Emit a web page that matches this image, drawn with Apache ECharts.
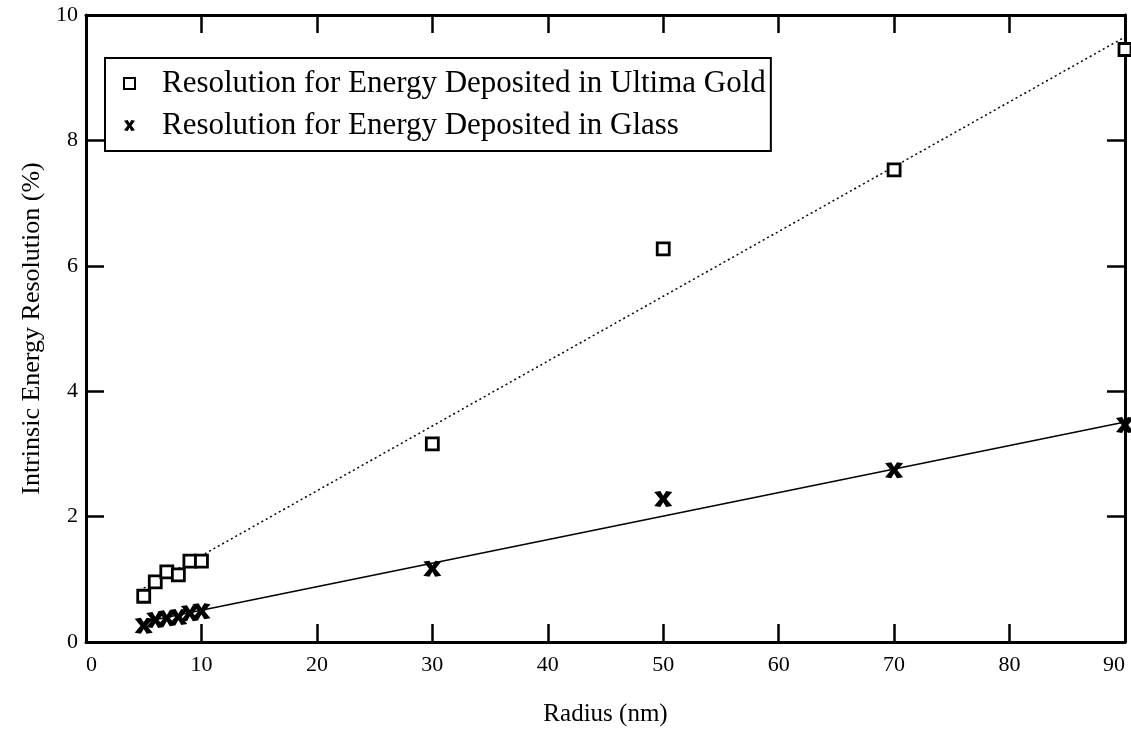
<!DOCTYPE html>
<html>
<head>
<meta charset="utf-8">
<script src="https://cdn.jsdelivr.net/npm/echarts@6/dist/echarts.min.js"></script>
<style>
  html, body { margin: 0; padding: 0; background: #fff; }
  #chart { width: 1131px; height: 740px; }
</style>
</head>
<body>
<div id="chart"></div>
<script>
// Radius (nm) of each measurement
const radius = [5, 6, 7, 8, 9, 10, 30, 50, 70, 90];
// Intrinsic energy resolution (%) for energy deposited in Ultima Gold
const goldRes = [0.73, 0.96, 1.12, 1.07, 1.29, 1.29, 3.16, 6.27, 7.53, 9.45];
// Intrinsic energy resolution (%) for energy deposited in glass
const glassRes = [0.26, 0.35, 0.38, 0.40, 0.46, 0.49, 1.17, 2.28, 2.74, 3.46];
// Straight-line fits: [radius, resolution] endpoints
const goldFit = [[5, 0.86], [90, 9.65]];
const glassFit = [[5, 0.32], [90, 3.51]];
// Axis tick labels
const xTicks = [0, 10, 20, 30, 40, 50, 60, 70, 80, 90];
const yTicks = [0, 2, 4, 6, 8, 10];

const serif = '"Liberation Serif", "DejaVu Serif", serif';
// bold "x" marker outline
const crossPath = 'path://M0,0.6 L3.4,0 L5,3.0 L6.6,0 L10,0.6 L6.8,5 L10,9.4 L6.6,10 L5,7.0 L3.4,10 L0,9.4 L3.2,5 Z';

const frameLine = { show: true, onZero: false, lineStyle: { color: '#000', width: 3 } };
const innerTick = { show: true, inside: true, length: 18, lineStyle: { color: '#000', width: 2.5 } };

const chart = echarts.init(document.getElementById('chart'), null, { renderer: 'canvas' });
chart.setOption({
  animation: false,
  backgroundColor: '#fff',
  grid: { left: 86, right: 6, top: 15, bottom: 98, containLabel: false, outerBoundsMode: 'none' },
  legend: {
    left: 105, top: 58,
    orient: 'vertical',
    backgroundColor: '#fff',
    borderColor: '#000', borderWidth: 2,
    padding: [10, 5, 10, 18],
    itemGap: 11,
    itemWidth: 11, itemHeight: 11,
    textStyle: { fontFamily: serif, fontSize: 31, color: '#000', padding: [0, 0, 0, 22] },
    data: [
      { name: 'Resolution for Energy Deposited in Ultima Gold' },
      { name: 'Resolution for Energy Deposited in Glass' }
    ]
  },
  xAxis: [{
    type: 'value', min: xTicks[0], max: xTicks[xTicks.length - 1], interval: 10,
    position: 'bottom',
    name: 'Radius (nm)', nameLocation: 'middle', nameGap: 60,
    nameTextStyle: { fontFamily: serif, fontSize: 25, color: '#000' },
    axisLine: frameLine, axisTick: innerTick,
    axisLabel: {
      fontFamily: serif, fontSize: 22, color: '#000', margin: 12,
      alignMinLabel: 'left', alignMaxLabel: 'right'
    },
    splitLine: { show: false }
  }, {
    type: 'value', min: xTicks[0], max: xTicks[xTicks.length - 1], interval: 10,
    position: 'top',
    axisLine: frameLine, axisTick: innerTick,
    axisLabel: { show: false }, splitLine: { show: false }
  }],
  yAxis: [{
    type: 'value', min: yTicks[0], max: yTicks[yTicks.length - 1], interval: 2,
    position: 'left',
    name: 'Intrinsic Energy Resolution (%)', nameLocation: 'middle', nameGap: 37,
    nameTextStyle: { fontFamily: serif, fontSize: 26, color: '#000' },
    axisLine: frameLine, axisTick: innerTick,
    axisLabel: { fontFamily: serif, fontSize: 22, color: '#000', margin: 8 },
    splitLine: { show: false }
  }, {
    type: 'value', min: yTicks[0], max: yTicks[yTicks.length - 1], interval: 2,
    position: 'right',
    axisLine: frameLine, axisTick: innerTick,
    axisLabel: { show: false }, splitLine: { show: false }
  }],
  series: [
    {
      name: 'gold fit', type: 'line', data: goldFit,
      symbol: 'none', silent: true, z: 1,
      lineStyle: { color: '#000', width: 1.5, type: [2, 3] }
    },
    {
      name: 'glass fit', type: 'line', data: glassFit,
      symbol: 'none', silent: true, z: 1,
      lineStyle: { color: '#000', width: 1.5, type: 'solid' }
    },
    {
      name: 'Resolution for Energy Deposited in Ultima Gold', type: 'scatter', z: 3,
      data: radius.map((r, i) => [r, goldRes[i]]),
      symbol: 'rect', symbolSize: 12,
      itemStyle: { color: '#fff', borderColor: '#000', borderWidth: 2.8, opacity: 1 }
    },
    {
      name: 'Resolution for Energy Deposited in Glass', type: 'scatter', z: 3,
      data: radius.map((r, i) => [r, glassRes[i]]),
      symbol: crossPath, symbolSize: [18, 16],
      itemStyle: { color: '#000', opacity: 1 }
    }
  ]
});
</script>
</body>
</html>
